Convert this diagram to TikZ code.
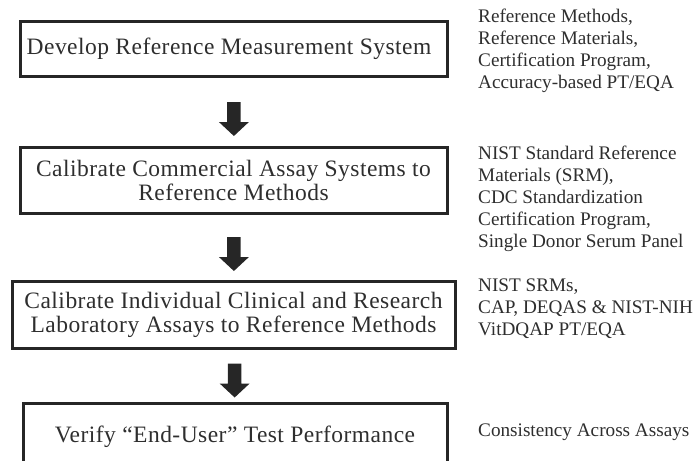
\documentclass[tikz,border=0pt]{standalone}
\usepackage{fontspec}
\setmainfont{Liberation Serif}
\newfontfamily\stepfont[LetterSpace=2]{Liberation Serif}
\usetikzlibrary{calc}
\definecolor{ink}{HTML}{2E2E2E}
\definecolor{framecol}{HTML}{262626}
\begin{document}
\begin{tikzpicture}[x=1pt,y=-1pt,
  stepbox/.style={draw=framecol, line width=3pt, outer sep=0pt, inner sep=0pt,
    align=center, text=ink, font=\stepfont\fontsize{23.5}{24}\selectfont},
  note/.style={anchor=north west, inner sep=0pt, align=left, text=ink,
    font=\fontsize{19.2}{22}\selectfont},
  downarrow/.pic={\fill[framecol] (-6.8,-17) -- (6.8,-17) -- (6.8,3) -- (15,3)
    -- (0,17) -- (-15,3) -- (-6.8,3) -- cycle;}]
\useasboundingbox (0,0) rectangle (697,461);
\clip (0,0) rectangle (697,461);

% process steps
\node[stepbox, minimum width=427pt, minimum height=55pt] (b1) at (233.5,48.5)
  {Develop Reference Measurement System\hspace*{9pt}};
\node[stepbox, minimum width=427pt, minimum height=66pt] (b2) at (233.5,180)
  {Calibrate Commercial Assay Systems to\\Reference Methods};
\node[stepbox, minimum width=443pt, minimum height=67pt] (b3) at (233.5,314.5)
  {Calibrate Individual Clinical and Research\\Laboratory Assays to Reference Methods};
\node[stepbox, minimum width=424pt, minimum height=68pt] (b4) at (235,437)
  {Verify “End-User” Test Performance};

% block arrows between the steps
\pic at ($(b1.south)!0.5!(b2.north)+(0.4,7.5)$) {downarrow};
\pic at ($(b2.south)!0.5!(b3.north)+(0.4,7)$) {downarrow};
\pic at ($(b3.south)!0.5!(b4.north)+(0.4,5)$) {downarrow};

% supporting resources for each step
\node[note] (n1) at (478,8.5)
  {Reference Methods,\\Reference Materials,\\Certification Program,\\Accuracy-based PT/EQA};
\node[note] (n2) at (478,146)
  {NIST Standard Reference\\Materials (SRM),\\CDC Standardization\\Certification Program,\\Single Donor Serum Panel};
\node[note] (n3) at (478,278.5)
  {NIST SRMs,\\CAP, DEQAS \& NIST-NIH\\VitDQAP PT/EQA};
\node[note] (n4) at (478,423.5)
  {Consistency Across Assays};
\end{tikzpicture}
\end{document}
